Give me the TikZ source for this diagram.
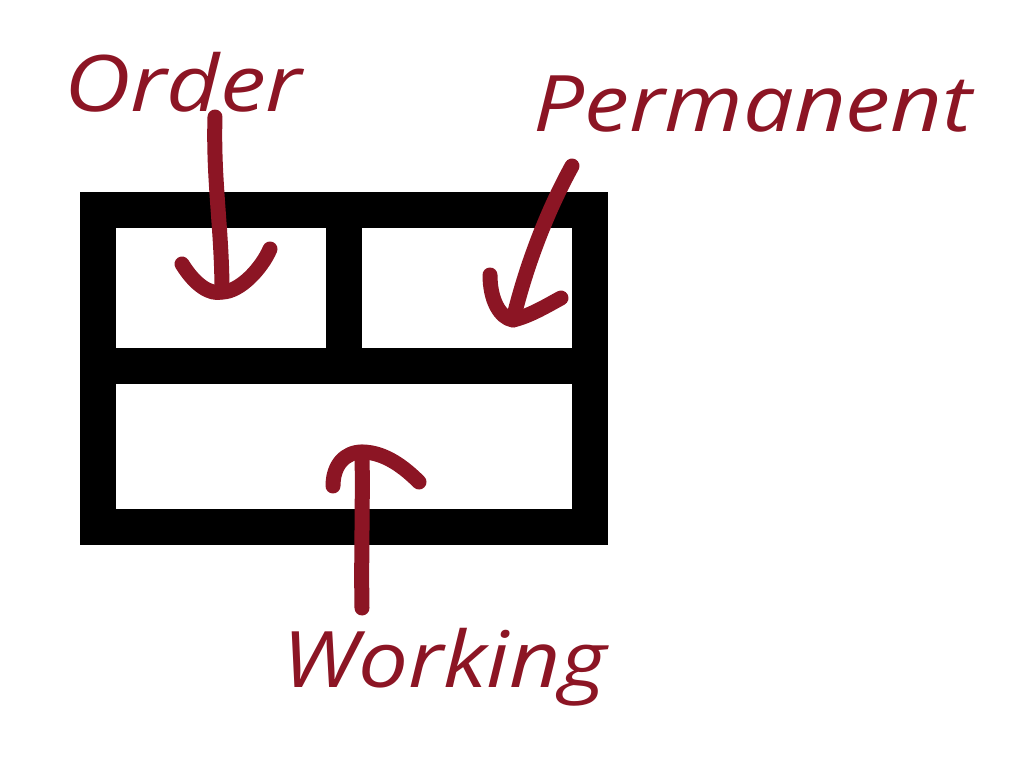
\documentclass[tikz,border=0pt]{standalone}
\usepackage{fontspec}
\usepackage{graphicx}
\newfontfamily\handfont{Open Sans}
\definecolor{inkred}{RGB}{140,21,36}
\newcommand{\handtext}[2]{\scalebox{#1}[1]{#2}}
\begin{document}
\begin{tikzpicture}[x=1pt,y=-1pt,
  frame/.style={draw=black,line width=36pt,line cap=rect,line join=miter},
  pen/.style={draw=inkred,line width=15pt,line cap=round,line join=round},
  lbl/.style={text=inkred,font=\handfont\itshape\fontsize{78}{80}\selectfont,inner sep=0pt,anchor=base west}]
\useasboundingbox (0,0) rectangle (1023,773);
% box
\draw[frame] (97.5,210) rectangle (589.5,526.5);
\draw[frame,line cap=butt] (97.5,365.5) -- (589.5,365.5);
\draw[frame,line cap=butt] (344,210) -- (344,365.5);
% labels
\node[lbl] (order) at (64,112) {\handtext{1.18}{Order}};
\node[lbl] (perm) at (533,132) {\handtext{1.155}{Permanent}};
\node[lbl] (work) at (282,687) {\handtext{1.14}{Working}};
% arrow points
\coordinate (o1) at (215,117);
\coordinate (o2) at (222,292);
\coordinate (p1) at (572,166);
\coordinate (p2) at (513,320);
\coordinate (w1) at (362,608);
\coordinate (w2) at (362,452);
% Order arrow
\draw[pen] (o1) .. controls (213,180) and (222,230) .. (o2);
\draw[pen] (182,264) .. controls (195,285) and (210,295) .. (o2) .. controls (240,292) and (262,268) .. (270,249);
% Permanent arrow
\draw[pen] (p1) .. controls (545,215) and (525,270) .. (p2);
\draw[pen] (490,275) .. controls (490,300) and (500,318) .. (p2) .. controls (530,316) and (548,305) .. (561,298);
% Working arrow
\draw[pen] (w1) .. controls (361,560) and (363,500) .. (w2);
\draw[pen] (333,486) .. controls (333,465) and (345,452) .. (w2) .. controls (385,452) and (405,468) .. (419,482);
\end{tikzpicture}
\end{document}
